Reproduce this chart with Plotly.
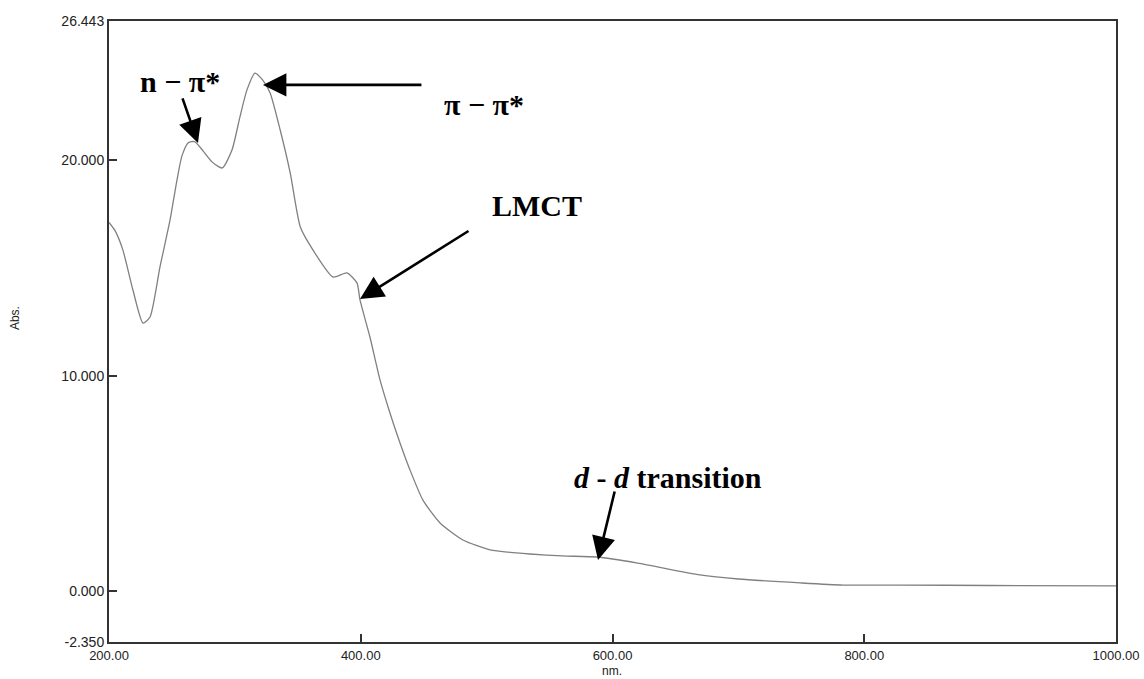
import plotly.graph_objects as go

# Spectrum (wavelength nm, absorbance)
wavelength = [200, 205, 211, 219, 227, 232.6, 240.5, 248.5, 254, 258, 263, 268, 275, 282, 290,
              297.7, 304, 309.6, 316, 322, 328, 336, 344, 352, 362, 378, 389, 397, 399.4,
              407.3, 415.3, 423.2, 431.2, 439.1, 449.4, 463, 481.2, 502.7, 524, 534.4,
              560, 587.7, 620, 669.5, 700, 749, 783, 828, 900, 1000]
absorbance = [17.1, 16.7, 15.83, 13.97, 12.44, 12.72, 15.04, 17.22, 19.07, 20.2, 20.8, 20.85,
              20.4, 19.9, 19.63, 20.46, 21.99, 23.25, 24.03, 23.71, 23.11, 21.39, 19.39, 16.89,
              15.83, 14.57, 14.76, 14.3, 13.51, 11.79, 9.8, 8.27, 6.88, 5.63, 4.23, 3.17,
              2.38, 1.92, 1.78, 1.73, 1.64, 1.59, 1.31, 0.76, 0.57, 0.39, 0.29, 0.29, 0.27, 0.25]

x_ticks = [200, 400, 600, 800, 1000]
x_tick_labels = ["200.00", "400.00", "600.00", "800.00", "1000.00"]
y_ticks = [-2.35, 0, 10, 20, 26.443]
y_tick_labels = ["-2.350", "0.000", "10.000", "20.000", "26.443"]

# annotation labels: (text, x, y) and arrows: (tip_x, tip_y, ax, ay)
labels = [
    ("<b>n − π*</b>", 223, 23.62),
    ("<b>π − π*</b>", 464.5, 22.55),
    ("<b>LMCT</b>", 502.7, 17.87),
    ("<b><i>d</i> - <i>d</i> transition</b>", 567.8, 5.30),
]
arrows = [
    (270.7, 20.79, -16, -46),
    (322.3, 23.48, 160, 0),
    (399.4, 13.55, 110, -69),
    (588.5, 1.45, 17, -70),
]

fig = go.Figure()
fig.add_trace(go.Scatter(
    x=wavelength, y=absorbance, mode="lines",
    line=dict(color="#808080", width=1.3, shape="spline", smoothing=0.6),
    showlegend=False, hoverinfo="skip",
))

serif = "Liberation Serif, Times New Roman, serif"
sans = "Liberation Sans, Arial"
annotations = []
for text, x, y in labels:
    annotations.append(dict(x=x, y=y, xref="x", yref="y", text=text, showarrow=False,
                            xanchor="left", yanchor="middle",
                            font=dict(family=serif, size=30, color="black")))
for tx, ty, ax, ay in arrows:
    annotations.append(dict(x=tx, y=ty, xref="x", yref="y", text="", showarrow=True,
                            ax=ax, ay=ay, arrowhead=2, arrowsize=1.8, arrowwidth=2.6,
                            arrowcolor="black", standoff=0))
annotations.append(dict(x=-0.0933, y=0.5217, xref="paper", yref="paper", text="Abs.",
                        showarrow=False, textangle=-90, xanchor="center", yanchor="middle",
                        font=dict(family=sans, size=12, color="#222")))
annotations.append(dict(x=0.4995, y=-0.047, xref="paper", yref="paper", text="nm.",
                        showarrow=False, xanchor="center", yanchor="middle",
                        font=dict(family=sans, size=12, color="#222")))

axis_common = dict(showline=True, linecolor="#333", linewidth=2, mirror=True,
                   ticks="inside", ticklen=8, tickcolor="#333", tickwidth=1.5,
                   showgrid=False, zeroline=False, automargin=False)

fig.update_layout(
    width=1144, height=679,
    margin=dict(l=109, r=28, t=21, b=37),
    paper_bgcolor="white", plot_bgcolor="white",
    xaxis=dict(range=[200, 1000], tickvals=x_ticks, ticktext=x_tick_labels,
               tickfont=dict(family=sans, size=13, color="#222"), **axis_common),
    yaxis=dict(range=[-2.35, 26.443], tickvals=y_ticks, ticktext=y_tick_labels,
               tickfont=dict(family=sans, size=14, color="#222"), **axis_common),
    annotations=annotations,
)

fig.write_html("out.html")
